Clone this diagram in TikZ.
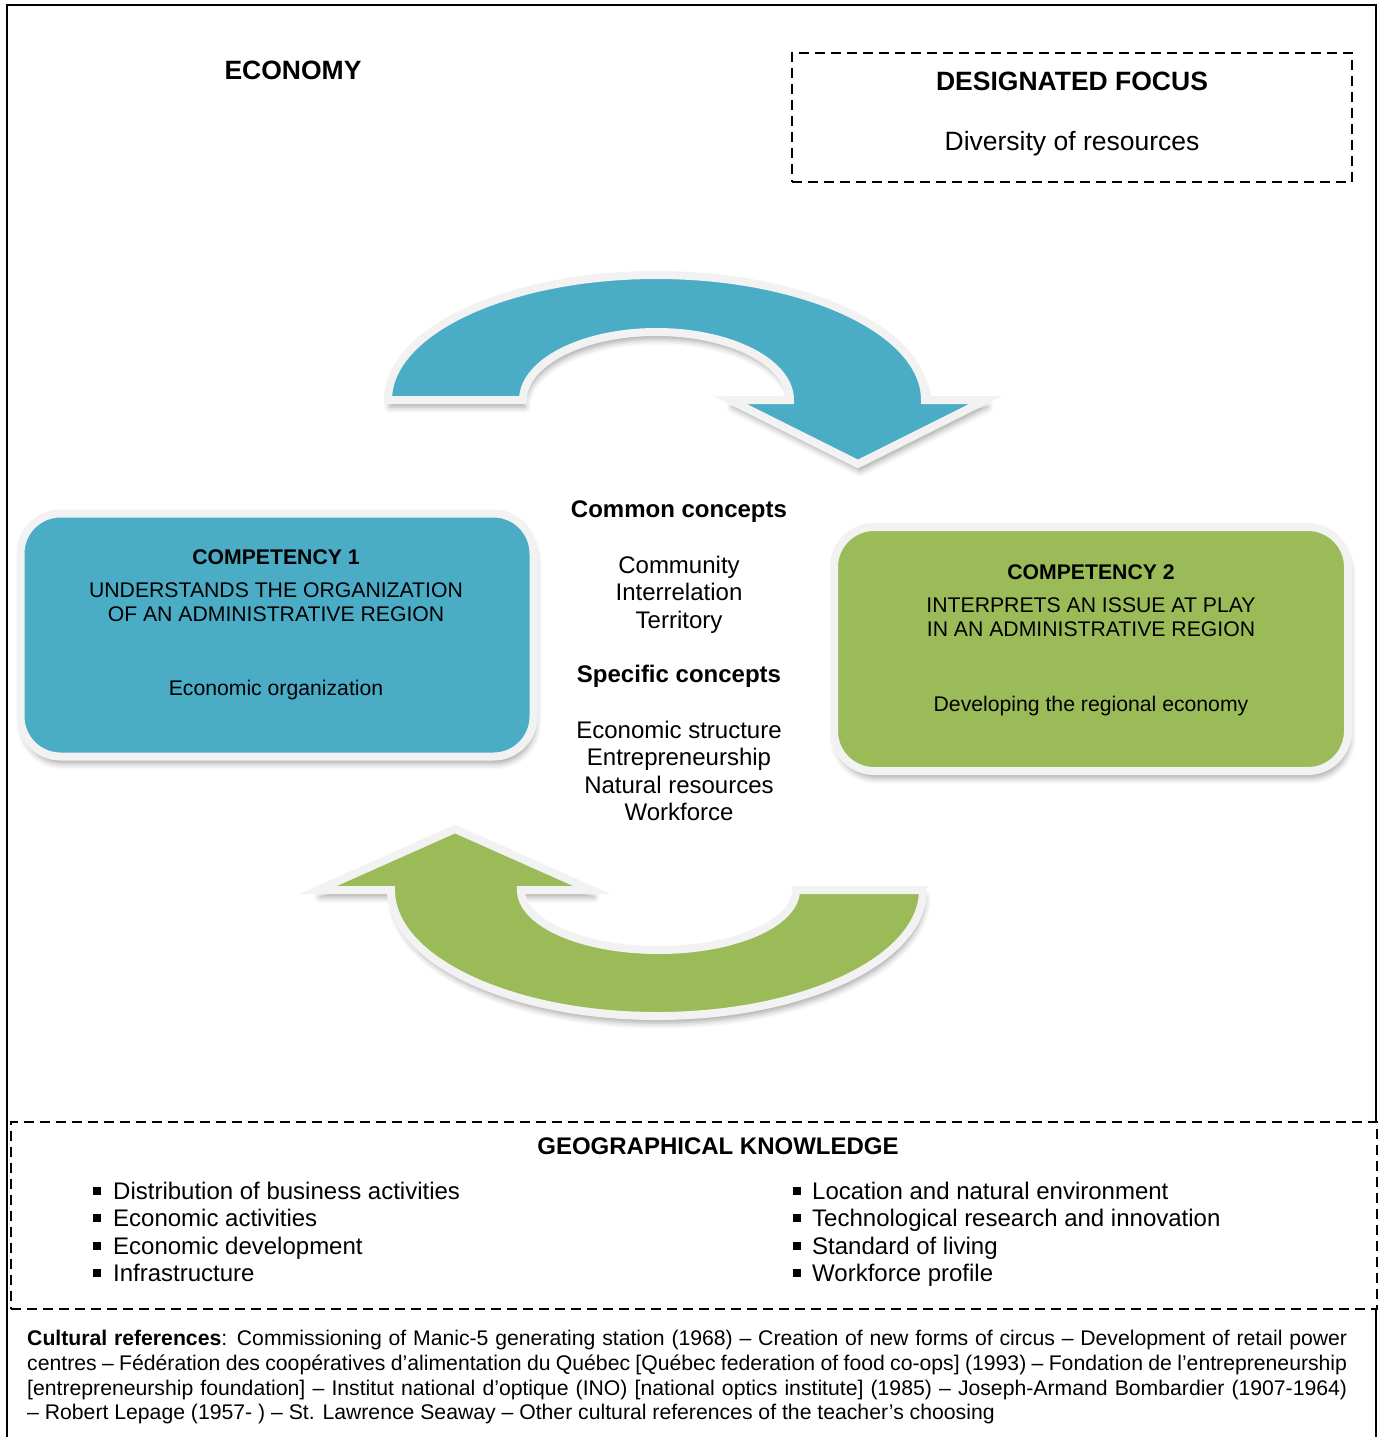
\documentclass[tikz,border=0pt]{standalone}
\usepackage{fontspec}
\setmainfont{Liberation Sans}
\usetikzlibrary{shadows.blur}
\definecolor{cblue}{HTML}{4BACC6}
\definecolor{cgreen}{HTML}{9BBB59}
\definecolor{cborder}{HTML}{F2F2F2}
\begin{document}
\begin{tikzpicture}[x=1pt,y=1pt,
  txt/.style={inner sep=0pt, anchor=base},
  bodyf/.style={font=\fontsize{24}{27.5}\selectfont},
  bodyb/.style={font=\fontsize{24}{27.5}\selectfont\bfseries},
  compf/.style={font=\fontsize{21.2}{24}\selectfont},
  compb/.style={font=\fontsize{21.2}{24}\selectfont\bfseries},
  headf/.style={font=\fontsize{26.5}{30}\selectfont\bfseries},
  culturef/.style={font=\fontsize{21.2}{25}\selectfont},
  dashbox/.style={draw, line width=2.2pt, dash pattern=on 10pt off 6pt, inner sep=0pt},
  softshadow/.style={blur shadow={shadow xshift=2pt, shadow yshift=-7pt, shadow blur radius=6pt, shadow opacity=35}},
  compbox/.style={draw=cborder, line width=8pt, rounded corners=40pt, inner sep=0pt, softshadow},
  arrowshape/.style={draw=cborder, line width=8pt, line join=miter, miter limit=12, softshadow},
]
\useasboundingbox (0,0) rectangle (1379,-1437);

% outer frame
\draw[line width=2pt] (7,-1437) -- (7,-5) -- (1376,-5) -- (1376,-1122);
\draw[line width=2pt] (1376,-1309) -- (1376,-1437);

% title
\node[txt, headf] (title) at (293,-79) {ECONOMY};

% designated focus
\node[dashbox, minimum width=560pt, minimum height=129pt] (focus) at (1072,-117.5) {};
\node[txt, headf] (focust) at (1072,-90) {DESIGNATED FOCUS};
\node[txt, font=\fontsize{26.5}{30}\selectfont] (focusd) at (1072,-150) {Diversity of resources};

% top arrow (blue)
\path[arrowshape, fill=cblue] (388,-400) arc[start angle=180, end angle=0, x radius=268.5pt, y radius=125pt]
  -- (986,-400) -- (858,-464) -- (730,-400) -- (790,-400)
  arc[start angle=0, end angle=180, x radius=133.5pt, y radius=68pt] -- cycle;

% bottom arrow (green)
\path[arrowshape, fill=cgreen] (923,-890) arc[start angle=0, end angle=-180, x radius=266pt, y radius=126pt]
  -- (318,-890) -- (455,-829) -- (592,-890) -- (521,-890)
  arc[start angle=180, end angle=360, x radius=137.5pt, y radius=60pt] -- cycle;

% competency 1
\node[compbox, fill=cblue, minimum width=513pt, minimum height=243pt] (comp1) at (277,-635) {};
\node[txt, compb] (c1a) at (276,-564.5) {COMPETENCY 1};
\node[txt, compf] (c1b) at (276,-597.5) {UNDERSTANDS THE ORGANIZATION};
\node[txt, compf] (c1c) at (276,-621.5) {OF AN ADMINISTRATIVE REGION};
\node[txt, compf] (c1d) at (276,-695) {Economic organization};

% competency 2
\node[compbox, fill=cgreen, minimum width=514pt, minimum height=244pt] (comp2) at (1091,-649) {};
\node[txt, compb] (c2a) at (1091,-579.5) {COMPETENCY 2};
\node[txt, compf] (c2b) at (1091,-612.5) {INTERPRETS AN ISSUE AT PLAY};
\node[txt, compf] (c2c) at (1091,-636.5) {IN AN ADMINISTRATIVE REGION};
\node[txt, compf] (c2d) at (1091,-711) {Developing the regional economy};

% concepts
\node[txt, bodyb] (cc) at (679,-517) {Common concepts};
\node[txt, bodyf] (cc1) at (679,-573) {Community};
\node[txt, bodyf] (cc2) at (679,-600) {Interrelation};
\node[txt, bodyf] (cc3) at (679,-628) {Territory};
\node[txt, bodyb] (sc) at (679,-682) {Specific concepts};
\node[txt, bodyf] (sc1) at (679,-738) {Economic structure};
\node[txt, bodyf] (sc2) at (679,-765) {Entrepreneurship};
\node[txt, bodyf] (sc3) at (679,-793) {Natural resources};
\node[txt, bodyf] (sc4) at (679,-820) {Workforce};

% geographical knowledge
\node[dashbox, minimum width=1366pt, minimum height=187pt] (geo) at (694,-1215.5) {};
\node[txt, bodyb] (geot) at (718,-1154.5) {GEOGRAPHICAL KNOWLEDGE};
\foreach \yy/\tl/\tr [count=\i] in {1199/Distribution of business activities/Location and natural environment,
  1226/Economic activities/Technological research and innovation,
  1254/Economic development/Standard of living,
  1281/Infrastructure/Workforce profile}{
  \fill (93,-\yy+4) rectangle (101,-\yy+12);
  \node[txt, anchor=base west, bodyf] (gl\i) at (113,-\yy) {\tl};
  \fill (793,-\yy+4) rectangle (801,-\yy+12);
  \node[txt, anchor=base west, bodyf] (gr\i) at (812,-\yy) {\tr};
}

% cultural references
\node[txt, anchor=base west, culturef] (cr1) at (27,-1345) {\hbox to 1320pt{\textbf{Cultural references}: Commissioning of Manic-5 generating station (1968) – Creation of new forms of circus – Development of retail power}};
\node[txt, anchor=base west, culturef] (cr2) at (27,-1370) {\hbox to 1320pt{centres – Fédération des coopératives d’alimentation du Québec [Québec federation of food co-ops] (1993) – Fondation de l’entrepreneurship}};
\node[txt, anchor=base west, culturef] (cr3) at (27,-1395) {\hbox to 1320pt{[entrepreneurship foundation] – Institut national d’optique (INO) [national optics institute] (1985) – Joseph-Armand Bombardier (1907-1964)}};
\node[txt, anchor=base west, culturef] (cr4) at (27,-1419) {– Robert Lepage (1957- ) – St. Lawrence Seaway – Other cultural references of the teacher’s choosing};
\end{tikzpicture}
\end{document}
